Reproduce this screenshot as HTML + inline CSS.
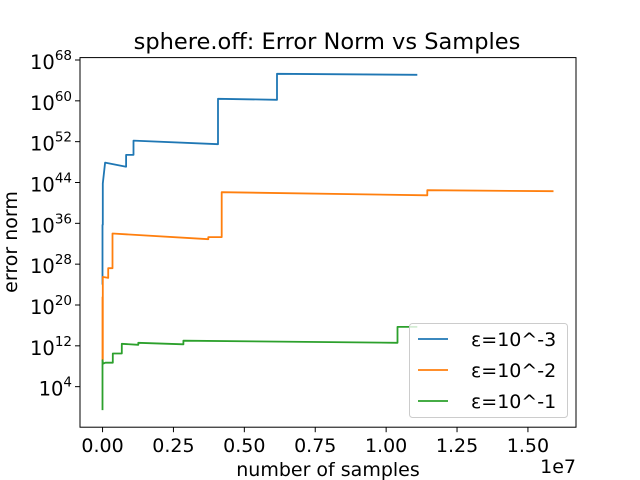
<!DOCTYPE html>
<html><head><meta charset="utf-8"><style>
body{margin:0;background:#fff}
svg{display:block;font-family:"DejaVu Sans","Liberation Sans",sans-serif}
</style></head><body>
<svg id="c" width="640" height="480"></svg>
<script>
const xTicks=[0,0.25,0.5,0.75,1.0,1.25,1.5];
const xTickLabels=["0.00","0.25","0.50","0.75","1.00","1.25","1.50"];
const yTicks=[4,12,20,28,36,44,52,60,68];
const seriesNames=["ε=10^-3","ε=10^-2","ε=10^-1"];
const colors=["#1f77b4","#ff7f0e","#2ca02c"];
// x in 1e7 samples, y as log10(error norm)
const blueX=[0,0,0.001,0.001,0.009,0.083,0.083,0.109,0.109,0.407,0.407,0.615,0.615,1.11];
const blueY=[24,35.7,35.7,43.8,47.9,47.1,49.4,49.4,52.2,51.5,60.4,60.2,65.3,65.1];
const orangeX=[0,0,0.001,0.001,0.02,0.02,0.03,0.035,0.035,0.373,0.373,0.42,0.42,1.145,1.145,1.59];
const orangeY=[21.6,9.2,9.2,25.5,25.3,27.2,27.2,27.2,34.0,32.9,33.3,33.3,42.1,41.5,42.5,42.3];
const greenX=[0,0,0.002,0.01,0.036,0.036,0.068,0.068,0.126,0.126,0.285,0.285,1.04,1.04,1.11];
const greenY=[-0.6,9.2,8.5,8.7,8.7,10.5,10.5,12.4,12.2,12.6,12.3,13.0,12.6,15.7,15.7];
const L=80,R=576,T=57.6,B=427.2;
const xmin=-0.0795,xmax=1.6695;
const sx=v=>L+(v-xmin)/(xmax-xmin)*(R-L);
const sy=p=>60+(68-p)*5.104;
const svg=document.getElementById('c');
const NS="http://www.w3.org/2000/svg";
function mk(t,a,txt){const e=document.createElementNS(NS,t);for(const k in a)e.setAttribute(k,a[k]);if(txt!==undefined)e.textContent=txt;svg.appendChild(e);return e;}
let e=mk('text',{x:327,y:49,'text-anchor':'middle','font-size':22.5},'sphere.off: Error Norm vs Samples');


xTicks.forEach((v,i)=>{
  let t=mk('line',{x1:sx(v),x2:sx(v),y1:B,y2:B+5,stroke:'#000','stroke-width':1});
  
  
  let l=mk('text',{x:sx(v),y:B+25,'text-anchor':'middle','font-size':19},xTickLabels[i]);
  
  
});
yTicks.forEach(p=>{
  let t=mk('line',{x1:L-5,x2:L,y1:sy(p),y2:sy(p),stroke:'#000','stroke-width':1});
  
  
  let l=mk('text',{x:L-8,y:sy(p)+9,'text-anchor':'end','font-size':19.5});
  
  
  l.innerHTML='10<tspan dy="-9" font-size="13.5">'+p+'</tspan>';
});
e=mk('text',{x:328,y:476,'text-anchor':'middle','font-size':19},'number of samples');


e=mk('text',{x:576,y:473,'text-anchor':'end','font-size':19},'1e7');


e=mk('text',{x:17,y:242,'text-anchor':'middle','font-size':19,transform:'rotate(-90 17 242)'},'error norm');


const XS=[blueX,orangeX,greenX],YS=[blueY,orangeY,greenY];
XS.forEach((xs,i)=>{
  const d=xs.map((x,j)=>(j?'L':'M')+sx(x).toFixed(1)+' '+sy(YS[i][j]).toFixed(1)).join(' ');
  let p=mk('path',{d:d,fill:'none',stroke:colors[i],'stroke-width':1.8,'stroke-linejoin':'round'});
  
  
});
e=mk('rect',{x:L,y:T,width:R-L,height:B-T,fill:'none',stroke:'#000','stroke-width':1});


e=mk('rect',{x:409.5,y:323.5,width:158,height:94,rx:3,fill:'#fff','fill-opacity':0.8,stroke:'#ccc'});


seriesNames.forEach((n,i)=>{
  const y=339+i*31;
  let l=mk('line',{x1:418,x2:448,y1:y,y2:y,stroke:colors[i],'stroke-width':1.8});
  
  
  let t=mk('text',{x:471,y:y+7,'font-size':19},n);
  
  
});
</script>
</body></html>
